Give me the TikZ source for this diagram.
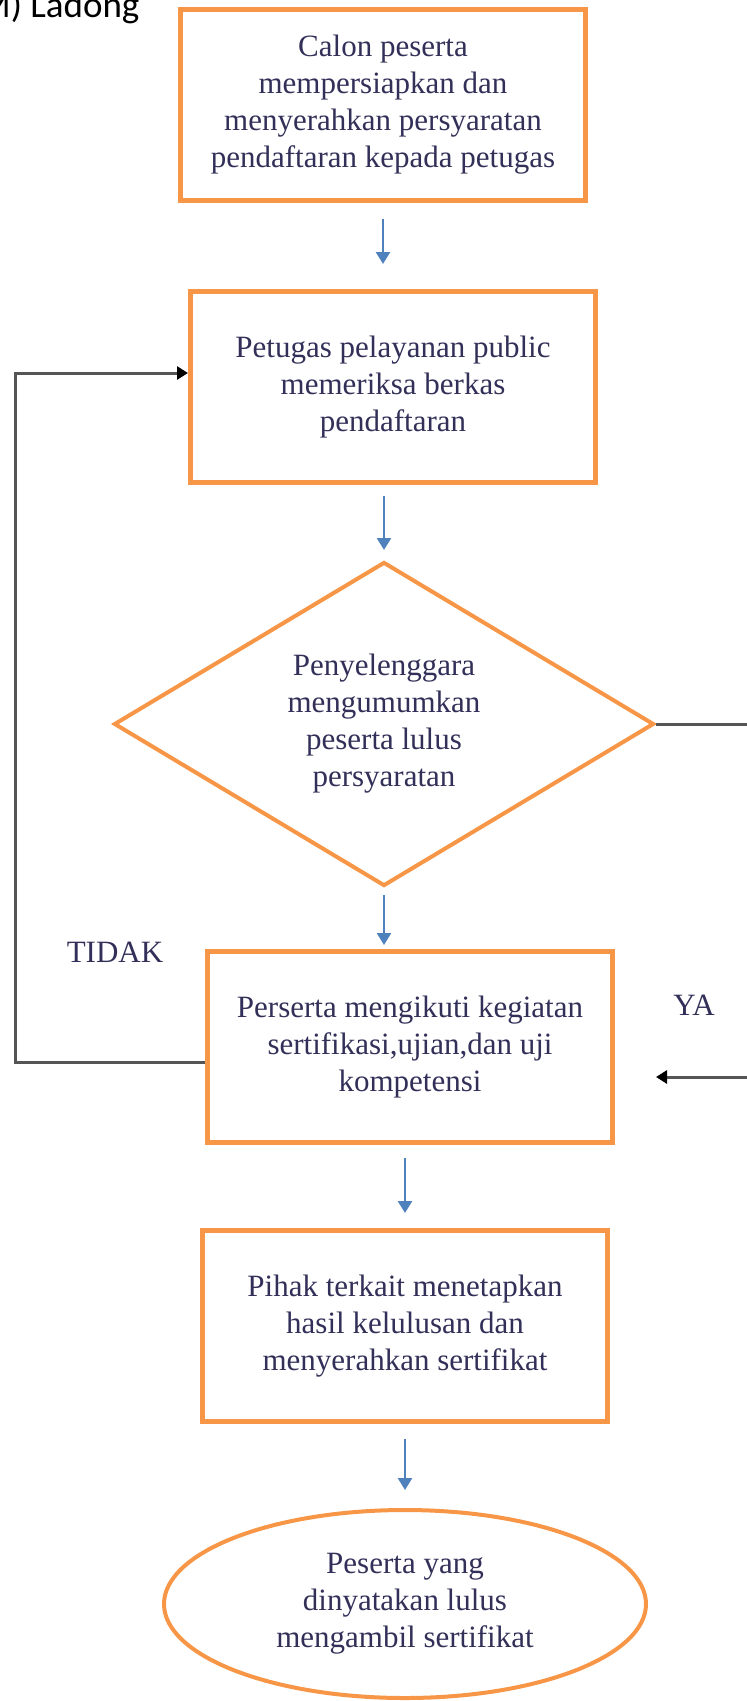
\documentclass[tikz,border=0pt]{standalone}
\usepackage{fontspec}
\setmainfont{Liberation Serif}
\newfontfamily\labelfont{Carlito}
\usetikzlibrary{shapes.geometric,arrows.meta}
\definecolor{boxorange}{RGB}{247,150,70}
\definecolor{flowblue}{RGB}{79,129,189}
\definecolor{loopgray}{RGB}{85,85,85}
\definecolor{textnavy}{RGB}{50,48,88}
\begin{document}
\begin{tikzpicture}[x=1pt, y=-1pt,
    every node/.style={font=\fontsize{31}{37}\selectfont, text=textnavy, align=center},
    stepbox/.style={draw=boxorange, line width=5pt, minimum width=405pt, minimum height=191pt, inner sep=0pt},
    decision/.style={diamond, aspect=1.67, draw=boxorange, line width=4pt, minimum width=540pt, minimum height=324pt, inner sep=0pt},
    endbox/.style={ellipse, draw=boxorange, line width=4pt, minimum width=482pt, minimum height=188pt, inner sep=0pt},
    flow/.style={-{Triangle[width=14pt,length=12pt]}, draw=flowblue, line width=2.5pt},
    back/.style={-{Triangle[width=13pt,length=11pt,color=black]}, draw=loopgray, line width=3pt},
    plain/.style={draw=loopgray, line width=3pt}]
    \useasboundingbox (0,0) rectangle (747,1701);
    \node[anchor=base east, text=black, font=\labelfont\fontsize{37}{44}\selectfont] (judul) at (143,17) {M) Ladong};
    \node[stepbox] (daftar) at (383,105) {Calon peserta\\mempersiapkan dan\\menyerahkan persyaratan\\pendaftaran kepada petugas};
    \node[stepbox] (periksa) at (393,387) {Petugas pelayanan public\\memeriksa berkas\\pendaftaran};
    \node[decision] (umum) at (384,724) {Penyelenggara\\mengumumkan\\peserta lulus\\persyaratan};
    \node[stepbox] (ikut) at (410,1047) {Perserta mengikuti kegiatan\\sertifikasi,ujian,dan uji\\kompetensi};
    \node[stepbox] (tetap) at (405,1326) {Pihak terkait menetapkan\\hasil kelulusan dan\\menyerahkan sertifikat};
    \node[endbox] (ambil) at (405,1604) {Peserta yang\\dinyatakan lulus\\mengambil sertifikat};
    \node (tidak) at (115,952) {TIDAK};
    \node (ya) at (694,1005) {YA};
    \coordinate (kiriatas) at (15,373);
    \coordinate (kiribawah) at (15,1062);
    \coordinate (kanan) at (750,724);
    \coordinate (kananbawah) at (750,1077);
    \coordinate (ujungya) at (656,1077);
    \draw[flow, shorten <=16pt, shorten >=25pt] (daftar.south) -- (daftar.south |- periksa.north);
    \draw[flow, shorten <=11pt, shorten >=10pt] (umum.north |- periksa.south) -- (umum.north);
    \draw[flow, shorten <=7pt, shorten >=4pt] (umum.south) -- (umum.south |- ikut.north);
    \draw[flow, shorten <=13pt, shorten >=15pt] (tetap.north |- ikut.south) -- (tetap.north);
    \draw[flow, shorten <=15pt, shorten >=18pt] (tetap.south) -- (ambil.north);
    \draw[back] (ikut.west |- kiribawah) -- (kiribawah) -- (kiriatas) -- (periksa.west |- kiriatas);
    \draw[plain] (umum.east) -- (kanan);
    \draw[back] (kananbawah) -- (ujungya);
\end{tikzpicture}
\end{document}
